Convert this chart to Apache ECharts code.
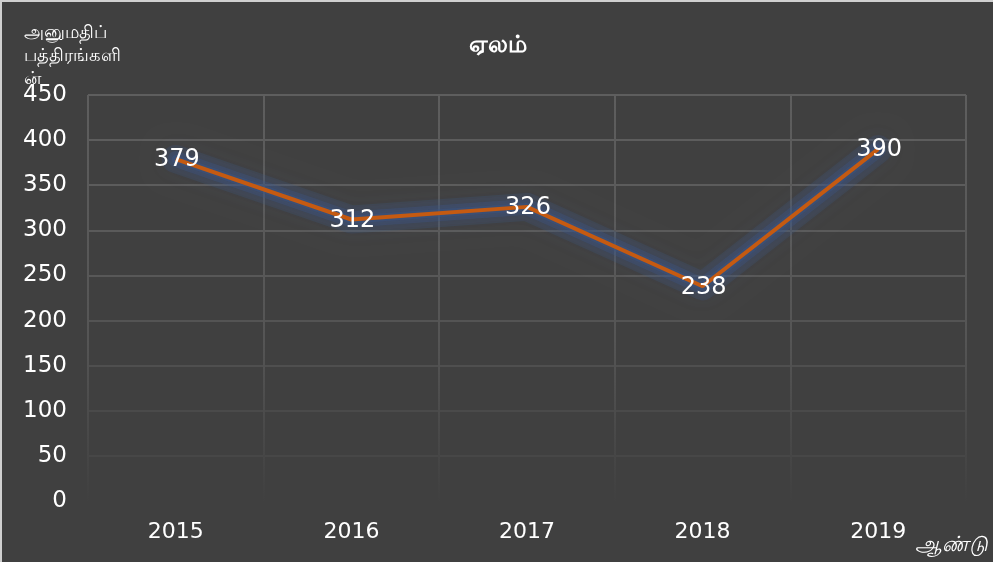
<!DOCTYPE html>
<html><head><meta charset="utf-8">
<script src="https://cdn.jsdelivr.net/npm/echarts@6/dist/echarts.min.js"></script>
<style>html,body{margin:0;padding:0;background:#404040;}#c{width:993px;height:562px;box-sizing:border-box;border:2px solid #d0d0d0;border-bottom:none;border-right:none;}</style>
</head><body><div id="c"></div>
<script>
const categories = ['2015', '2016', '2017', '2018', '2019'];
const values = [379, 312, 326, 238, 390];
const title = 'ஏலம்';
const yName = 'அனுமதிப்\nபத்திரங்களி\nன்';
const xName = 'ஆண்டு';

const chart = echarts.init(document.getElementById('c'));
const FONT = '"DejaVu Sans", "Noto Sans", sans-serif';
const glow = (w, a, b) => ({
  type: 'line', data: values, symbol: 'none', silent: true, z: 1,
  lineStyle: {color: 'rgba(58,85,135,' + a + ')', width: w, shadowColor: 'rgba(58,85,135,' + a + ')', shadowBlur: b, join: 'round', cap: 'round'}
});
chart.setOption({
  backgroundColor: '#404040',
  animation: false,
  title: {text: title, left: 'center', top: 27, textStyle: {color: '#ffffff', fontSize: 24, fontWeight: 'bold', fontFamily: FONT}},
  graphic: [
    {type: 'text', left: 22, top: 20, style: {text: yName, fill: '#ffffff', font: '18px ' + FONT, lineHeight: 23}},
    {type: 'text', left: 913, top: 533, style: {text: xName, fill: '#ffffff', font: 'italic 21px ' + FONT}}
  ],
  grid: {left: 86, right: 27, top: 93, bottom: 61},
  xAxis: {
    type: 'category', data: categories, boundaryGap: true,
    axisLine: {show: false}, axisTick: {show: false},
    axisLabel: {color: '#ffffff', fontSize: 22, margin: 20, fontFamily: FONT},
    splitLine: {show: true, lineStyle: {width: 2, color: new echarts.graphic.LinearGradient(0, 0, 0, 1, [
      {offset: 0, color: '#5e5e5e'}, {offset: 0.6, color: '#555555'}, {offset: 1, color: '#404040'}])}}
  },
  yAxis: {
    type: 'value', min: 0, max: 450, interval: 50,
    axisLine: {show: false}, axisTick: {show: false},
    axisLabel: {color: '#ffffff', fontSize: 23, margin: 21, fontFamily: FONT},
    splitLine: {show: true, lineStyle: {width: 2, color: ['rgba(0,0,0,0)', '#474747', '#4a4a4a', '#4f4f4f', '#545454', '#585858', '#5a5a5a', '#5c5c5c', '#5d5d5d', '#5e5e5e']}}
  },
  series: [glow(28, 0.22, 20), glow(16, 0.3, 12), glow(8, 0.4, 6), {
    type: 'line', data: values, symbol: 'circle', symbolSize: 1, showSymbol: true, z: 3,
    itemStyle: {color: 'rgba(0,0,0,0)', borderWidth: 0},
    lineStyle: {color: '#c55a11', width: 4},
    label: {show: true, position: 'inside', color: '#ffffff', fontSize: 24, fontFamily: FONT, offset: [1, 1]}
  }]
});
</script></body></html>
